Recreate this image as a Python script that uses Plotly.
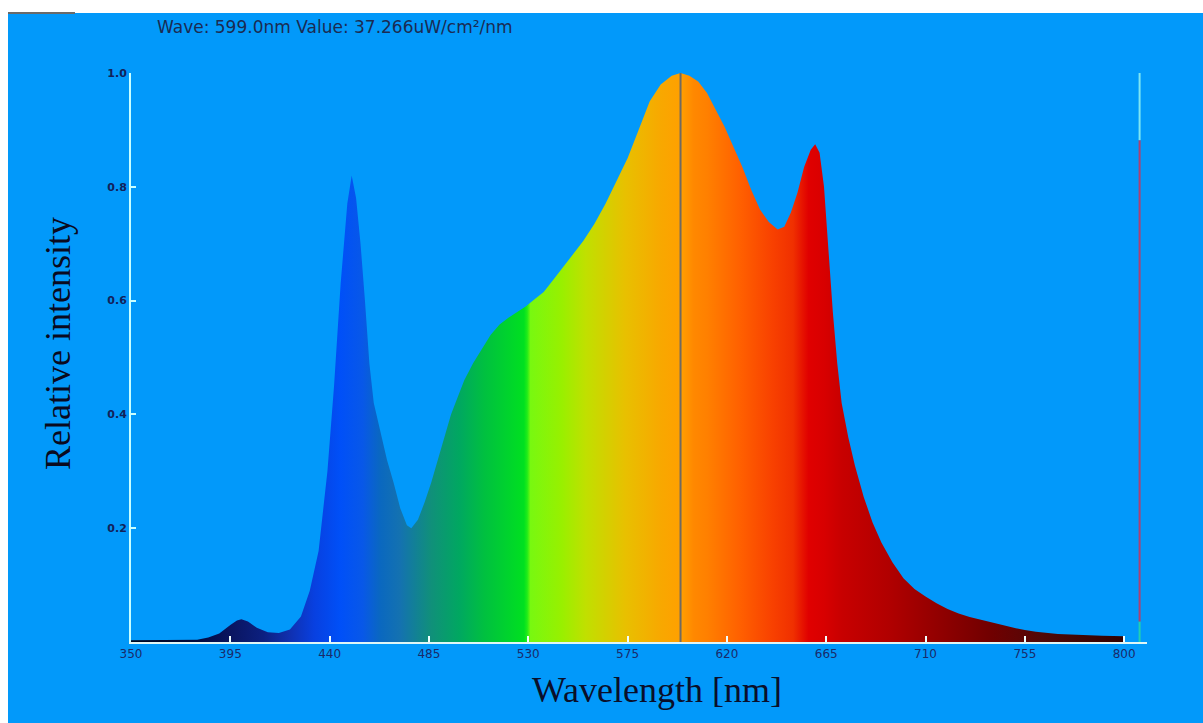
import plotly.graph_objects as go

# ---------------- data ----------------
wavelength_nm = [350, 360, 370, 380, 385, 390, 395, 398, 400, 403, 407, 412, 417, 422,
                 427, 431, 435, 439, 442, 445, 448, 450, 452, 454, 456, 458, 460, 463,
                 466, 469, 472, 475, 477, 480, 483, 486, 489, 492, 495, 498, 501, 505,
                 509, 513, 517, 521, 525, 529, 533, 537, 541, 545, 550, 555, 560, 565,
                 570, 575, 580, 585, 590, 595, 599, 603, 607, 611, 615, 619, 623, 627,
                 631, 635, 639, 643, 646, 649, 652, 655, 658, 660, 662, 664, 666, 668,
                 670, 672, 675, 678, 682, 686, 690, 695, 700, 705, 710, 715, 720, 725,
                 730, 735, 740, 745, 750, 755, 760, 770, 780, 790, 800]
relative_intensity = [0.003, 0.003, 0.003, 0.004, 0.008, 0.015, 0.030, 0.038, 0.040, 0.036,
                      0.025, 0.017, 0.016, 0.022, 0.045, 0.090, 0.160, 0.300, 0.450, 0.630,
                      0.770, 0.820, 0.780, 0.700, 0.600, 0.490, 0.420, 0.370, 0.320, 0.280,
                      0.235, 0.205, 0.200, 0.215, 0.245, 0.280, 0.320, 0.360, 0.400, 0.430,
                      0.460, 0.490, 0.515, 0.540, 0.558, 0.570, 0.580, 0.590, 0.603, 0.615,
                      0.635, 0.655, 0.680, 0.705, 0.735, 0.770, 0.810, 0.850, 0.900, 0.950,
                      0.980, 0.995, 1.000, 0.995, 0.985, 0.965, 0.935, 0.905, 0.870, 0.835,
                      0.795, 0.760, 0.738, 0.725, 0.730, 0.755, 0.790, 0.835, 0.865, 0.875,
                      0.860, 0.800, 0.690, 0.580, 0.490, 0.420, 0.360, 0.310, 0.255, 0.210,
                      0.175, 0.140, 0.112, 0.093, 0.080, 0.068, 0.058, 0.050, 0.044, 0.039,
                      0.034, 0.029, 0.025, 0.021, 0.018, 0.014, 0.012, 0.011, 0.010]

# wavelength -> display colour of the spectrum fill
color_nm = [350, 380, 395, 410, 422, 433, 445, 455, 463, 472, 486, 499, 510, 528, 529.5,
            531, 545, 556, 574, 590, 599, 605, 611, 626, 641, 650, 657, 664, 672, 694,
            717, 740, 763, 800]
color_hex = ["#000820", "#000a40", "#0a1560", "#0c2080", "#1030b0", "#0840e0", "#0050f8",
             "#0858e8", "#0a68c0", "#1472b0", "#10907a", "#00a860", "#00c040", "#00e020",
             "#20ec18", "#78f810", "#98f000", "#c0e000", "#e8c000", "#f8a800", "#ffa000",
             "#ff8800", "#ff8000", "#ff6000", "#f84000", "#f03000", "#e00000", "#d80000",
             "#c80000", "#b00000", "#900000", "#700000", "#500808", "#300000"]

x_ticks = [350, 395, 440, 485, 530, 575, 620, 665, 710, 755, 800]
y_ticks = [0.2, 0.4, 0.6, 0.8, 1.0]
y_tick_text = ["0.2", "0.4", "0.6", "0.8", "1.0"]

cursor_nm = 599.0
cursor_value = "37.266"
indicator_nm = 807
indicator_levels = [0.0, 0.036, 0.882, 1.0]

# ---------------- figure ----------------
BG = "#0299FA"
lo, hi = color_nm[0], color_nm[-1]
colorscale = [[(w - lo) / (hi - lo), c] for w, c in zip(color_nm, color_hex)]

fig = go.Figure()
fig.add_trace(go.Scatter(
    x=wavelength_nm, y=relative_intensity, mode="lines",
    line=dict(width=0, color="#000000"), fill="tozeroy",
    fillgradient=dict(type="horizontal", colorscale=colorscale, start=lo, stop=hi),
    hoverinfo="skip", showlegend=False))

# cursor line
fig.add_trace(go.Scatter(x=[cursor_nm, cursor_nm], y=[0, 1.0], mode="lines",
                         line=dict(color="#6f6a62", width=2), showlegend=False, hoverinfo="skip"))

# right indicator bar
seg_cols = ["#22d0b0", "#b04070", "#7fe6f2"]
for i in range(3):
    fig.add_trace(go.Scatter(x=[indicator_nm, indicator_nm],
                             y=[indicator_levels[i], indicator_levels[i + 1]], mode="lines",
                             line=dict(color=seg_cols[i], width=2), showlegend=False, hoverinfo="skip"))

W, H = 1203, 723
L, R, T, B = 131, 56, 73, 81
pw, ph = W - L - R, H - T - B


def px(xp):
    return (xp - L) / pw


def py(yp):
    return (H - B - yp) / ph


fig.update_layout(
    width=W, height=H, margin=dict(l=L, r=R, t=T, b=B),
    paper_bgcolor=BG, plot_bgcolor=BG, showlegend=False,
    xaxis=dict(range=[350, 350 + (1147 - 131) / 2.207], tickvals=x_ticks,
               ticktext=[str(v) for v in x_ticks], showgrid=False, zeroline=False,
               showline=True, linecolor="#dff6f6", linewidth=2,
               ticks="inside", ticklen=6, tickcolor="#f0ffff", tickwidth=2,
               tickfont=dict(family="DejaVu Sans", size=12, color="#1a2a6a")),
    yaxis=dict(range=[0, 1.0], tickvals=y_ticks, ticktext=y_tick_text, showgrid=False,
               zeroline=False, showline=True, linecolor="#c8ffff", linewidth=2,
               ticks="inside", ticklen=5, tickcolor="#c8ffff", tickwidth=2,
               tickfont=dict(family="DejaVu Sans", size=11, color="#12225a", weight="bold")),
    font=dict(family="DejaVu Sans"),
    shapes=[
        dict(type="rect", xref="paper", yref="paper", x0=px(0), x1=px(W), y0=py(13), y1=py(0),
             fillcolor="#ffffff", line=dict(width=0), layer="above"),
        dict(type="rect", xref="paper", yref="paper", x0=px(0), x1=px(8), y0=py(H), y1=py(0),
             fillcolor="#ffffff", line=dict(width=0), layer="above"),
        dict(type="line", xref="paper", yref="paper", x0=px(8), x1=px(75), y0=py(13), y1=py(13),
             line=dict(color="#6a6a6a", width=2)),
    ],
    annotations=[
        dict(text=f"Wave: {cursor_nm:.1f}nm Value: {cursor_value}uW/cm²/nm", xref="paper",
             yref="paper", x=px(155), y=py(27), xanchor="left", yanchor="middle",
             showarrow=False, font=dict(family="DejaVu Sans", size=17, color="#1b2b52")),
        dict(text="Relative intensity", xref="paper", yref="paper", x=px(58), y=py(344),
             xanchor="center", yanchor="middle", textangle=-90, showarrow=False,
             font=dict(family="Liberation Serif, Times New Roman", size=36, color="#0a0a1e")),
        dict(text="Wavelength [nm]", xref="paper", yref="paper", x=px(657), y=py(690),
             xanchor="center", yanchor="middle", showarrow=False,
             font=dict(family="Liberation Serif, Times New Roman", size=36, color="#0a0f2a")),
    ],
)

fig.write_html("out.html", config={"displayModeBar": False},
               post_script="document.body.style.margin='0px';document.body.style.overflow='hidden';")
